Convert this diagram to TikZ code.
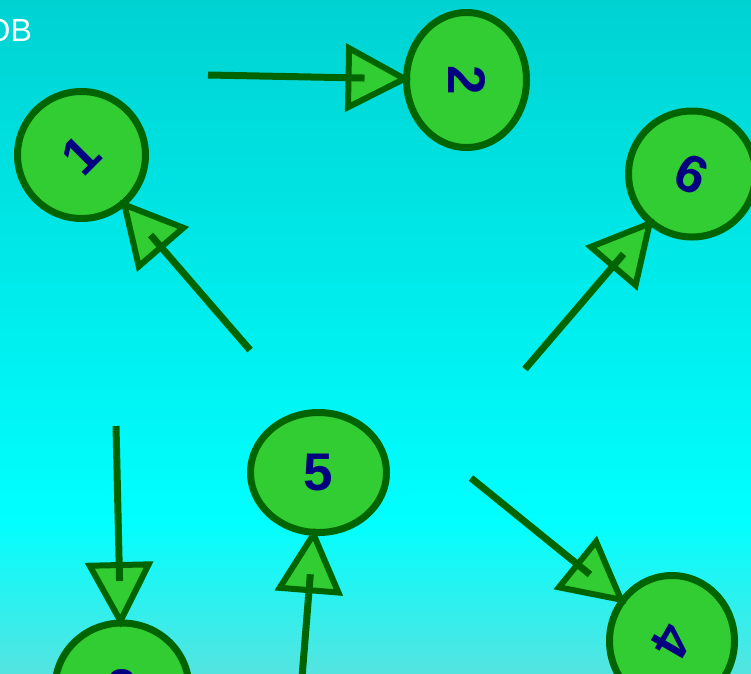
\documentclass[tikz,border=0pt]{standalone}
\usepackage{fontspec}
\setmainfont{Liberation Sans}
\usetikzlibrary{shapes.geometric,calc}
\definecolor{edgegreen}{RGB}{0,100,0}
\definecolor{fillgreen}{RGB}{50,205,50}
\definecolor{labelblue}{RGB}{0,0,128}
\definecolor{bgtop}{RGB}{0,210,210}
\definecolor{bgmid}{RGB}{0,255,255}
\definecolor{bgbot}{RGB}{84,228,224}
\newcommand\linkarrow[2]{%
  \path (#1) -- (#2) coordinate[pos=1] (#1-t);
  \coordinate (#1-T) at ($(#1-t)!2pt!(#1)$);
  \coordinate (#1-B) at ($(#1-T)!56pt!(#1)$);
  \draw[headtri] (#1-T) -- ($(#1-B)!29.5pt!90:(#1-T)$) -- ($(#1-B)!29.5pt!-90:(#1-T)$) -- cycle;
  \draw[shaft] (#1) -- ($(#1-T)!40pt!(#1)$);
}
\begin{document}
\begin{tikzpicture}[x=1pt,y=-1pt,
  vertex/.style={ellipse, draw=edgegreen, fill=fillgreen, line width=7pt, inner sep=0pt, outer sep=0pt, text=labelblue, font=\fontsize{53}{53}\selectfont\bfseries},
  headtri/.style={draw=edgegreen, fill=fillgreen, line width=6pt, line join=miter},
  shaft/.style={draw=edgegreen, line width=7pt, line cap=butt}]
\useasboundingbox (0,0) rectangle (751,673);
\clip (0,0) rectangle (751,673);
\shade[top color=bgtop, bottom color=bgmid] (0,0) rectangle (751,520);
\shade[top color=bgmid, bottom color=bgbot] (0,519.5) rectangle (751,673);
\node[anchor=base west, text=white, inner sep=0pt, font=\fontsize{32}{32}\selectfont] (title) at (-14.5,41) {OB};

\node[vertex, minimum width=128pt, minimum height=127pt] (n1) at (81.5,155) {\rotatebox{45}{1}};
\node[vertex, minimum width=120pt, minimum height=135pt] (n2) at (466.5,80) {\rotatebox{-90}{2}};
\node[vertex, minimum width=134pt, minimum height=130pt] (n3) at (122,688) {3};
\node[vertex, minimum width=125pt, minimum height=131pt] (n4) at (672,641) {\rotatebox{-120}{4}};
\node[vertex, minimum width=136pt, minimum height=120pt] (n5) at (318.5,472.5) {5};
\node[vertex, minimum width=127pt, minimum height=126pt] (n6) at (692,174) {\rotatebox{-25}{6}};

\coordinate (s1) at (250,350);
\coordinate (s2) at (208,75);
\coordinate (s3) at (525,369);
\coordinate (s4) at (116,426);
\coordinate (s5) at (301,690);
\coordinate (s6) at (471,478);

\linkarrow{s1}{n1}
\linkarrow{s2}{n2}
\linkarrow{s3}{n6}
\linkarrow{s4}{n3}
\linkarrow{s5}{n5}
\linkarrow{s6}{n4}
\end{tikzpicture}
\end{document}
